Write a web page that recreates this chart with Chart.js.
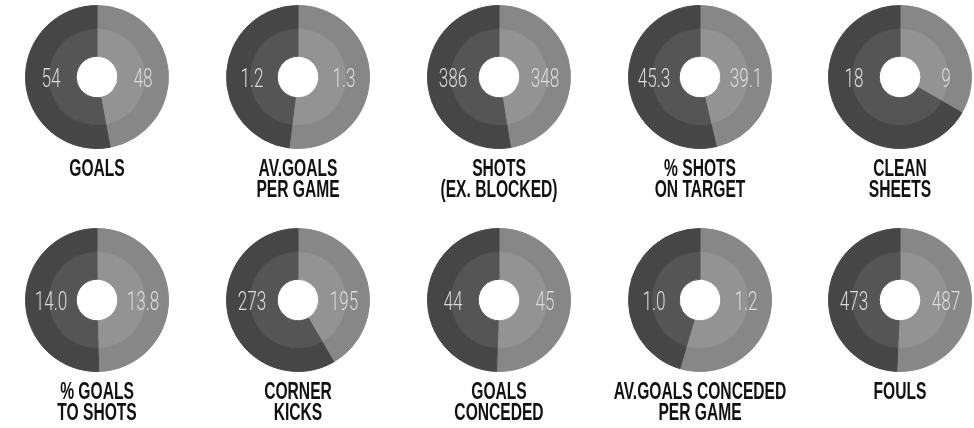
<!DOCTYPE html>
<html>
<head>
<meta charset="utf-8">
<script src="https://cdn.jsdelivr.net/npm/chart.js@4/dist/chart.umd.min.js"></script>
<style>
  html, body { margin: 0; padding: 0; background: #fff; }
  #wrap { position: relative; width: 974px; height: 428px; overflow: hidden; }
  .cell { position: absolute; width: 201px; height: 214px; }
</style>
</head>
<body>
<div id="wrap"></div>
<script>
// datos por grafico (izquierda = oscuro, derecha = claro)
const titulos = [
  ["GOALS"],
  ["AV.GOALS", "PER GAME"],
  ["SHOTS", "(EX. BLOCKED)"],
  ["% SHOTS", "ON TARGET"],
  ["CLEAN", "SHEETS"],
  ["% GOALS", "TO SHOTS"],
  ["CORNER", "KICKS"],
  ["GOALS", "CONCEDED"],
  ["AV.GOALS CONCEDED", "PER GAME"],
  ["FOULS"]
];
const valoresIzq = [54, 1.2, 386, 45.3, 18, 14.0, 273, 44, 1.0, 473];
const valoresDer = [48, 1.3, 348, 39.1, 9, 13.8, 195, 45, 1.2, 487];
const decimales = [0, 1, 0, 1, 0, 1, 0, 0, 1, 0];

const centrosX = [97, 298, 499, 700, 900];
const centrosY = [77, 300];
const RADIO = 72;

const colOscuro = "#464646";
const colOscuroIn = "#555555";
const colClaro = "#878787";
const colClaroIn = "#939393";

const textoPlugin = {
  id: "textos",
  afterDraw(chart, args, opts) {
    const ctx = chart.ctx;
    const arc = chart.getDatasetMeta(0).data[0];
    const cx = arc.x, cy = arc.y;

    // valores
    ctx.save();
    ctx.fillStyle = "#dcdcdc";
    ctx.textAlign = "center";
    ctx.textBaseline = "middle";
    ctx.font = "300 26px Roboto, 'Liberation Sans', sans-serif";
    [[-46, opts.izq], [46, opts.der]].forEach(function (p) {
      ctx.save();
      ctx.translate(cx + p[0], cy + 3);
      ctx.scale(0.66, 1);
      ctx.fillText(p[1], 0, 0);
      ctx.restore();
    });
    ctx.restore();

    // titulo
    ctx.save();
    ctx.fillStyle = "#111111";
    ctx.textAlign = "center";
    ctx.textBaseline = "middle";
    ctx.font = "bold 24px 'Liberation Sans', Arial, sans-serif";
    opts.lineas.forEach(function (t, k) {
      ctx.save();
      ctx.translate(cx, cy + 92 + k * 21);
      ctx.scale(0.65, 1);
      ctx.fillText(t, 0, 0);
      ctx.restore();
    });
    ctx.restore();
  }
};

const wrap = document.getElementById("wrap");

for (let i = 0; i < 10; i++) {
  const fila = Math.floor(i / 5);
  const col = i % 5;
  const cx = centrosX[col];
  const cy = centrosY[fila];
  const top = fila * 214;
  const left = cx - 100;

  const div = document.createElement("div");
  div.className = "cell";
  div.style.left = left + "px";
  div.style.top = top + "px";
  const canvas = document.createElement("canvas");
  canvas.width = 201;
  canvas.height = 214;
  div.appendChild(canvas);
  wrap.appendChild(div);

  const cyLocal = cy - top;
  const datos = [valoresDer[i], valoresIzq[i]];

  new Chart(canvas.getContext("2d"), {
    type: "doughnut",
    data: {
      labels: ["der", "izq"],
      datasets: [
        { data: datos, backgroundColor: [colClaro, colOscuro], borderColor: [colClaro, colOscuro], borderWidth: 1, weight: 23 },
        { data: datos, backgroundColor: [colClaroIn, colOscuroIn], borderColor: [colClaroIn, colOscuroIn], borderWidth: 1, weight: 28 }
      ]
    },
    options: {
      responsive: false,
      animation: false,
      cutout: "29%",
      layout: {
        padding: { left: 28, right: 29, top: cyLocal - RADIO, bottom: 214 - (cyLocal + RADIO) }
      },
      plugins: {
        legend: { display: false },
        tooltip: { enabled: false },
        textos: {
          izq: valoresIzq[i].toFixed(decimales[i]),
          der: valoresDer[i].toFixed(decimales[i]),
          lineas: titulos[i]
        }
      }
    },
    plugins: [textoPlugin]
  });
}
</script>
</body>
</html>
